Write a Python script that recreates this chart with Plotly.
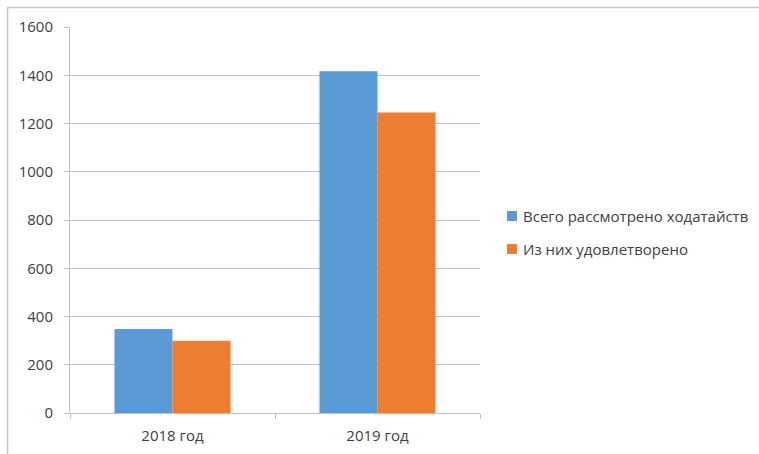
import plotly.graph_objects as go

categories = ["2018 год", "2019 год"]
total = [348, 1417]
granted = [300, 1246]
series_names = ["Всего рассмотрено ходатайств", "Из них удовлетворено"]
colors = ["#5b9bd5", "#ed7d31"]

W, H = 759, 454
L, R, T, B = 70, 279, 27, 41
pw = W - L - R
ph = H - T - B
FONT = "Open Sans"
TXT = "#404040"
GRID = "#c0c0c0"

fig = go.Figure()
for name, vals, c in zip(series_names, [total, granted], colors):
    fig.add_trace(go.Bar(x=categories, y=vals, name=name, showlegend=False,
                         marker=dict(color=c, line=dict(width=0))))

def px2paper_x(x):
    return (x - L) / pw

def px2paper_y(y):
    return (H - B - y) / ph

# outer frame (left and top edges)
fig.add_shape(type="line", xref="paper", yref="paper",
              x0=px2paper_x(7.5), x1=px2paper_x(7.5), y0=px2paper_y(7.5), y1=px2paper_y(460),
              line=dict(color="#c8c8c8", width=1.5))
fig.add_shape(type="line", xref="paper", yref="paper",
              x0=px2paper_x(7), x1=px2paper_x(765), y0=px2paper_y(7.5), y1=px2paper_y(7.5),
              line=dict(color="#c8c8c8", width=1.5))

# manual legend
legend_rows = [216, 249]
for name, c, yc in zip(series_names, colors, legend_rows):
    fig.add_shape(type="rect", xref="paper", yref="paper",
                  x0=px2paper_x(507), x1=px2paper_x(517),
                  y0=px2paper_y(yc - 5), y1=px2paper_y(yc + 5),
                  fillcolor=c, line=dict(width=0))
    fig.add_annotation(xref="paper", yref="paper", x=px2paper_x(521), y=px2paper_y(yc),
                       text=name, showarrow=False, xanchor="left", yanchor="middle",
                       font=dict(family=FONT, size=15, color=TXT))

fig.update_layout(
    width=W, height=H,
    margin=dict(l=L, r=R, t=T, b=B, pad=0, autoexpand=False),
    paper_bgcolor="white", plot_bgcolor="white",
    barmode="group", bargap=0.434, bargroupgap=0,
    font=dict(family=FONT, size=15, color=TXT),
    showlegend=False,
    xaxis=dict(showgrid=False, showline=True, linecolor=GRID, linewidth=1,
               ticks="outside", tickson="boundaries", ticklen=5, tickcolor=GRID,
               ticklabelstandoff=9, automargin=False,
               tickfont=dict(family=FONT, size=15, color=TXT)),
    yaxis=dict(range=[0, 1600], dtick=200, showgrid=True, gridcolor=GRID, gridwidth=1,
               showline=True, linecolor=GRID, linewidth=1, zeroline=False,
               ticks="outside", ticklen=5, tickcolor=GRID,
               ticklabelstandoff=8, automargin=False,
               tickfont=dict(family=FONT, size=15, color=TXT)),
)

fig.write_html("out.html")
